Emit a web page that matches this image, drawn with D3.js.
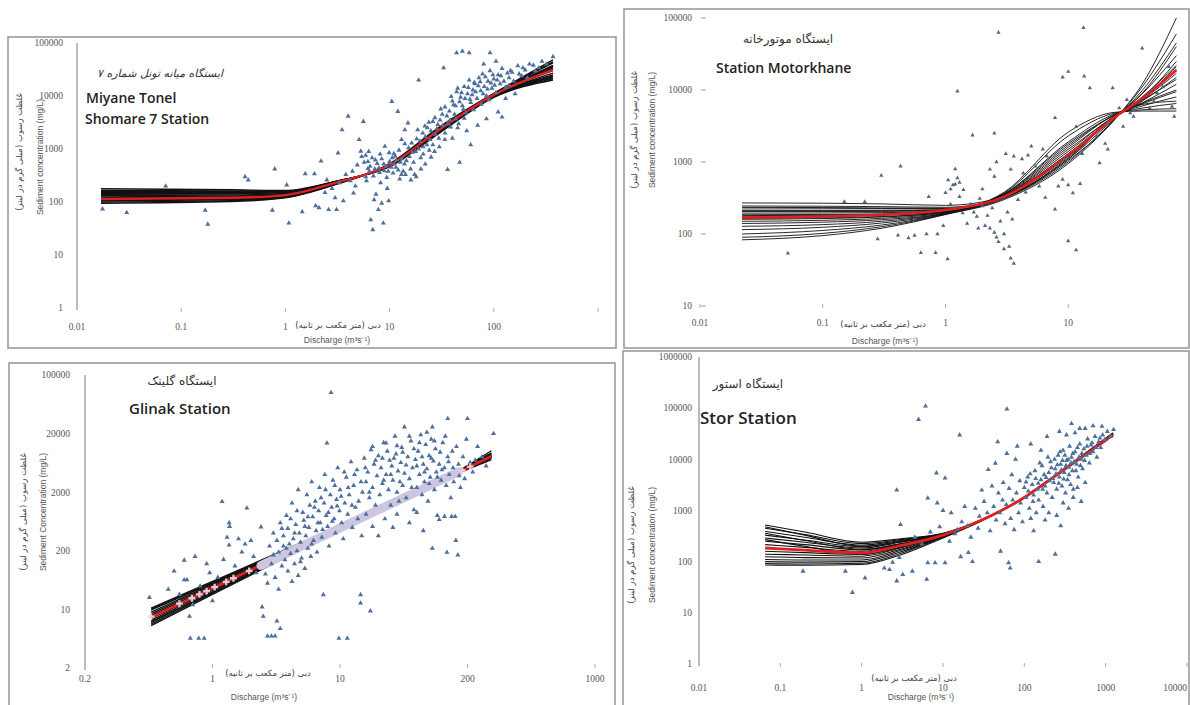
<!DOCTYPE html>
<html>
<head>
<meta charset="utf-8">
<script src="https://cdn.jsdelivr.net/npm/d3@7"></script>
<style>
  body { margin: 0; background: #fff; }
  svg { display: block; background: #fff; }
  .tick-label { font-family: "Liberation Serif", serif; font-size: 9.5px; fill: #555; }
  .axis-title { font-family: "Liberation Sans", Arial, sans-serif; font-size: 8.5px; fill: #555; }
  .fa-title { font-family: "DejaVu Sans", sans-serif; font-size: 8.5px; fill: #444; }
  .station-en { font-family: "Open Sans", "Liberation Sans", sans-serif; font-weight: 600; fill: #222; }
  .station-fa { font-family: "DejaVu Sans", sans-serif; fill: #333; }
</style>
</head>
<body>
<svg id="chart" width="1190" height="705"></svg>
<script>
// ---------- shared text ----------
const faYTitle = "غلظت رسوب (میلی گرم در لیتر)";
const faXTitle = "دبی (متر مکعب بر ثانیه)";
const enXTitle = "Discharge (m³s⁻¹)";

// ---------- Miyane Tonel (top left) ----------
const miyaneXTicks = [0.01, 0.1, 1, 10, 100, 1000];
const miyaneXLabels = ["0.01", "0.1", "1", "10", "100", ""];
const miyaneYTicks = [1, 10, 100, 1000, 10000, 100000];
const miyaneYLabels = ["1", "10", "100", "1000", "10000", "100000"];
const miyaneKnots = [0.017, 0.3, 1, 3, 10, 30, 100, 370];
const miyaneMean = [114, 120, 135, 230, 500, 2300, 10500, 31000];
const miyaneBoot = [
  [100, 106, 122, 215, 520, 2500, 11000, 48000],
  [105, 110, 126, 220, 510, 2400, 10800, 42000],
  [110, 116, 130, 225, 505, 2350, 10600, 38000],
  [118, 122, 136, 230, 495, 2300, 10500, 34000],
  [125, 128, 140, 232, 490, 2250, 10400, 30000],
  [132, 135, 145, 235, 485, 2200, 10200, 27000],
  [140, 142, 150, 238, 480, 2150, 10000, 25000],
  [150, 150, 155, 240, 475, 2100, 9800, 23000],
  [165, 162, 160, 242, 470, 2050, 9600, 21000],
  [178, 170, 165, 245, 465, 2000, 9400, 20000],
  [95, 102, 120, 212, 525, 2600, 11200, 44000],
  [108, 113, 128, 222, 508, 2380, 10700, 36000],
  [120, 125, 138, 228, 498, 2280, 10450, 33000],
  [145, 146, 152, 239, 478, 2120, 9900, 24000],
  [160, 156, 158, 241, 472, 2070, 9700, 22000],
  [112, 118, 132, 226, 502, 2330, 10550, 37000]
];
const miyanePoints = [
  [0.0176,74],[0.03,63],[0.071,200],[0.18,38],[0.17,70],[0.41,300],[0.44,260],[0.79,420],[0.75,70],
  [1.03,210],[1.08,40],[1.55,340],[1.45,65],[1.9,340],[2.2,590],[2.5,260],[2.1,78],[1.95,85],[2.6,72],
  [3.2,840],[3.1,72],[3.5,2300],[4.0,4150],[4.5,147],[4.9,500],[5.6,3300],[5.1,1500],[5.3,910],[5.9,300],
  [6.2,430],[6.6,46],[6.9,30],[7.1,110],[7.4,140],[7.8,72],[8.4,95],[8.7,40],[9.0,1120],[9.5,180],[9.8,105],
  [10.5,7900],[12,5100],[15,3100],[14,2300],[13,1500],[11,820],[10,580],
  [2.8,180],[3.3,230],[3.8,330],[4.2,250],[2.4,150],[3.6,105],[4.4,380],[4.7,200],[3.0,120],
  [5.4,720],[5.9,760],[6.2,580],[6.5,470],[6.8,680],[7.2,420],[7.6,530],[8.0,360],[8.4,650],[8.8,520],
  [9.2,470],[9.7,380],[10.1,560],[10.6,680],[11.1,520],[11.6,610],[12.1,400],[12.7,560],[13.2,650],
  [13.9,520],[14.5,600],[15.2,1050],[15.9,420],[16.6,870],[17.4,330],[18.2,1550],[19,1000],[19.9,680],
  [20.8,2000],[21.8,2700],[22.8,1200],[23.8,3200],[24.9,2200],[26,1200],[27.2,3900],[28.4,2400],
  [29.7,1600],[31,5700],[32.4,2800],[33.9,1500],[35.4,4200],[33,34000],[36,410],[38.6,2600],[19,20000],
  [6,250],[7,310],[8.2,230],[9.4,290],[10.8,350],[12.5,270],[14.2,330],[16,260],[18,300],[20,420],
  [22,520],[25,700],[27,900],[30,1100],[6.4,380],[7.9,440],[11.5,450],[13.5,380],[17,560],[21,800],[24,950],
  [40,8000],[42,4500],[44,12000],[46,3000],[48,9500],[50,6500],[52,15000],[54,4800],[56,11000],
  [58,20000],[60,7500],[63,13000],[66,17000],[69,9000],[72,22000],[75,12500],[78,26000],[81,15000],
  [85,10000],[88,19000],[92,30000],[96,14000],[100,21000],[105,11500],[110,25000],[115,17000],
  [120,33000],[130,14500],[140,22000],[150,28000],[160,11000],[170,37000],[185,24000],[200,31000],
  [220,40000],[250,30000],[290,45000],[370,55000],[44,65000],[50,70000],[58,65000],[92,65000],
  [40,1600],[47,560],[60,1200],[55,2200],[70,2800],[85,3700],[110,5000],[120,4000],[38,3500],
  [43,6500],[64,5500],[76,7000],[90,8500],[130,9000],[45,2500],[52,3800],[34,2000],[65,18000],
  [80,40000],[105,45000],[140,16000],
  [5.7,560],[6.3,900],[7.3,620],[8.1,800],[8.9,390],[9.9,850],[10.4,450],[11.3,730],[12.3,950],[13,330],
  [14,1250],[15.5,720],[16.3,1300],[17.8,900],[18.6,2300],[19.5,1400],[21,1100],[22,1700],[23,2500],
  [24.5,1500],[26,3300],[27.5,1900],[29,2900],[30.5,3500],[32,4500],[34,6200],[36,3000],[37.5,5200],
  [39,9800],[41,6800],[43,3700],[45,14000],[47,7800],[49,11500],[51,5600],[53,9000],[57,14500],
  [59,8700],[62,10500],[67,12000],[71,15500],[74,18500],[79,11000],[83,23000],[87,13500],[94,17500],
  [98,25000],[102,16000],[108,20000],[117,24000],[125,19000],[135,27000],[145,30000],[155,19000],
  [175,26000],[190,34000],[210,22000],[240,38000],[270,34000],[320,40000]
];

// ---------- Motorkhane (top right) ----------
const motorXTicks = [0.01, 0.1, 1, 10];
const motorXLabels = ["0.01", "0.1", "1", "10"];
const motorYTicks = [10, 100, 1000, 10000, 100000];
const motorYLabels = ["10", "100", "1000", "10000", "100000"];
const motorKnots = [0.022, 0.1, 0.3, 1, 3, 10, 24, 40, 76];
const motorMean = [170, 175, 185, 215, 330, 1250, 4200, 7600, 19000];
const motorBoot = [
  [270, 268, 262, 250, 330, 1100, 4400, 7800, 25000],
  [245, 243, 240, 235, 320, 1150, 4300, 7600, 21000],
  [230, 228, 226, 225, 330, 1200, 4250, 7500, 19000],
  [215, 214, 214, 218, 335, 1250, 4200, 7300, 17000],
  [205, 205, 206, 212, 340, 1300, 4250, 7000, 15000],
  [195, 196, 198, 208, 345, 1400, 4350, 6600, 12000],
  [185, 187, 190, 205, 350, 1600, 4500, 6000, 8000],
  [175, 178, 183, 203, 360, 1900, 4650, 5600, 6500],
  [165, 168, 175, 200, 370, 2300, 4800, 5300, 5500],
  [150, 155, 165, 198, 380, 2600, 4900, 5100, 5100],
  [140, 146, 158, 196, 360, 1800, 4500, 6400, 9500],
  [128, 135, 150, 194, 340, 1500, 4300, 7200, 14000],
  [115, 124, 142, 192, 330, 1250, 4150, 8000, 22000],
  [100, 112, 133, 190, 320, 1100, 4050, 8800, 30000],
  [90, 102, 126, 188, 310, 1000, 3950, 9800, 45000],
  [83, 95, 120, 186, 300, 950, 3900, 11000, 60000],
  [210, 210, 210, 215, 320, 1050, 3950, 12000, 100000],
  [180, 182, 186, 204, 340, 1300, 4200, 9000, 40000],
  [160, 164, 172, 201, 355, 1700, 4550, 6600, 10000],
  [235, 233, 230, 228, 330, 1200, 4300, 6300, 7000]
];
const motorPoints = [
  [0.052,54],[0.30,650],[0.43,870],[0.22,280],[0.15,280],[0.28,85],[0.41,96],[0.50,88],[0.56,95],
  [0.70,100],[0.63,55],[0.83,55],[0.86,100],[0.73,330],[0.96,130],[1.0,375],[1.04,45],[1.2,800],
  [1.25,600],[1.3,520],[1.1,420],[1.15,480],[1.2,490],[1.4,410],[1.25,9600],[1.66,2350],[2.5,2500],
  [2.7,63000],[1.38,195],[1.5,140],[1.8,175],[1.85,120],[2.0,245],[2.1,130],[2.3,790],[2.5,630],
  [2.6,1000],[2.3,120],[2.5,105],[2.6,90],[2.7,78],[3.0,62],[3.4,46],[3.0,100],[3.3,67],[3.6,39],
  [3.1,1300],[3.4,790],[3.6,1200],[3.9,300],[4.2,1100],[4.3,700],[4.7,1240],[5.0,1650],[5.4,870],
  [5.8,460],[6.2,1500],[6.7,1200],[7.2,700],[7.8,220],[8.3,460],[9.0,570],[9.3,1100],[10,480],
  [10.9,370],[11.6,60],[12.5,500],[13,1300],[13.3,73000],[9,15000],[10,18000],[13.5,15500],[15,10700],
  [7.8,4100],[11.6,3100],[17,2300],[18,970],[20,1800],[21,1500],[23,10700],[26,5600],[30,7300],
  [32,4800],[34,5300],[40,38000],[46,5600],[50,6900],[53,9100],[59,11000],[66,21000],[70,5900],
  [73,4300],[34,4300],[28,3100],[21,3500],[10,80],[1.6,260],[1.7,200],[1.9,310],[2.2,180],[2.8,150],
  [3.2,200],[3.5,160],[1.1,260],[1.3,330],[4.5,380],[6.5,320],[8.0,900],[1.05,560],[2.0,420],[2.4,230]
];

// ---------- Glinak (bottom left) ----------
const glinakXTicks = [0.1, 1, 10, 100, 1000];
const glinakXLabels = ["0.2", "1", "10", "200", "1000"];
const glinakYTicks = [1, 10, 100, 1000, 10000, 100000];
const glinakYLabels = ["2", "10", "200", "2000", "20000", "100000"];
const glinakKnots = [0.33, 1, 10, 100, 154];
const glinakMean = [7.4, 23, 245, 2600, 4100];
const glinakBoot = [
  [10.5, 30, 270, 2550, 3900],
  [9.8, 28, 262, 2580, 4000],
  [9.0, 27, 258, 2600, 4050],
  [8.4, 26, 252, 2620, 4100],
  [7.9, 24.5, 248, 2640, 4200],
  [7.0, 22, 242, 2680, 4300],
  [6.5, 21, 238, 2720, 4400],
  [6.0, 20, 234, 2760, 4550],
  [5.6, 19, 230, 2800, 4700],
  [5.3, 18, 226, 2850, 5100],
  [10.0, 29, 260, 2450, 3600],
  [6.2, 19.5, 225, 2500, 3800]
];
const glinakHighlightQ = [2.4, 10, 40, 85];
const glinakHighlightC = [56, 245, 1020, 2230];
const glinakPlusQ = [0.33, 0.55, 0.69, 0.79, 0.9, 1.04, 1.28, 1.46, 1.94, 91, 105];
const glinakPlusC = [7.5, 12.5, 15.5, 18, 20.5, 24, 29.5, 34, 45.5, 2350, 2720];
const glinakPoints = [
  [0.32,16],[0.6,69],[0.6,32],[0.63,32],[0.73,80],[0.66,7.6],[0.67,3.2],[0.78,3.2],[0.86,3.2],[0.95,42],
  [1.19,690],[1.22,71],[1.35,300],[1.36,260],[1.3,170],[1.35,125],[1.6,160],[1.8,130],[1.86,535],
  [2.1,80],[2.2,42],[2.4,255],[2.45,11],[2.5,7.6],[2.7,3.5],[2.9,3.5],[3.1,3.5],[3.4,4.7],[3.2,6.3],
  [0.45,22],[0.5,45],[0.55,18],[0.8,25],[1.0,14],[1.1,35],[0.9,60],[1.5,55],[1.7,95],[2.0,150],[0.7,12],
  [2.6,40],[2.7,28],[2.8,120],[2.9,60],[3.0,200],[3.0,85],[3.1,35],[3.2,150],[3.3,95],[3.3,22],
  [3.4,300],[3.5,55],[3.6,180],[3.6,120],[3.7,70],[3.8,400],[3.9,45],[3.9,240],[4.0,130],[4.1,90],
  [4.2,650],[4.2,30],[4.3,160],[4.4,60],[4.5,280],[4.6,100],[4.7,1100],[4.7,38],[4.8,200],[4.9,140],
  [5.0,75],[5.1,450],[5.2,330],[5.3,50],[5.4,180],[5.5,900],[5.6,110],[5.7,250],[5.8,600],[5.9,80],
  [6.0,1500],[6.1,380],[6.2,150],[6.4,700],[6.5,220],[6.6,95],[6.8,480],[6.9,1200],[7.0,300],[7.2,170],
  [7.4,17.8],[7.5,650],[7.6,2000],[7.8,400],[7.9,6900],[8.0,260],[8.2,120],[8.4,900],[8.5,50000],
  [8.6,550],[8.8,1600],[9.0,350],[9.2,200],[9.4,750],[9.6,2600],[9.8,3.2],[9.9,480],[10,1100],
  [10.3,300],[10.6,160],[10.9,650],[11.2,1800],[11.4,3.2],[11.5,420],[11.8,900],[12.2,3300],[12.5,250],
  [12.8,1300],[13.2,550],[13.6,2400],[14.0,700],[14.5,17.8],[14.5,12.8],[14.8,180],[15,1000],
  [15.5,3800],[16,420],[17.3,9.4],
  [16,1500],[16.5,2200],[17,800],[17.5,5300],[18,1200],[18.5,3000],[19,600],[19.5,1900],[20,4200],
  [20.5,900],[21,2600],[21.5,1400],[22,7000],[22.5,350],[23,6900],[23,2000],[24,1100],[24.5,3500],
  [25,600],[25.5,2800],[26,1600],[27,9000],[27.5,4500],[28,1000],[28.5,2300],[29,700],[30,3200],
  [30.5,5800],[31,1300],[32,13000],[32,2100],[33,800],[34,4000],[35,1700],[36,7500],[37,2600],[38,500],
  [39,3600],[40,1200],[41,5000],[42,2000],[43,9500],[44,900],[45,3000],[46,1500],[47,6500],[48,2500],
  [49,700],[50,4200],[51,1800],[52,8000],[53,13000],[53,110],[54,3400],[55,1100],[56,5500],[57,2200],
  [58,400],[60,340],[60,3000],[62,1600],[64,7000],[66,385],[66,2600],[68,1300],[69,94],[70,18000],
  [70,4000],[72,2000],[74,800],[75,385],[76,5000],[78,1500],[80,385],[81,150],[84,85],[85,3000],
  [88,1200],[90,2400],[95,1700],[100,18000],[105,3200],[110,2200],[120,6000],[130,4000],[160,10000],
  [140,2800],[26,250],[35,300],[45,220],[20,180],[28,420],[40,450],[18,260],
  [3.5,240],[3.8,110],[4.1,350],[4.4,200],[4.6,480],[4.9,65],[5.3,260],[5.6,380],[6.0,130],[6.3,550],
  [6.7,300],[7.1,800],[7.3,230],[7.7,1100],[8.1,450],[8.7,320],[9.1,1300],[9.5,580],[10.2,850],
  [10.8,2200],[11.6,1200],[12.4,600],[13,2000],[13.8,350],[14.6,1500],[15.8,2600],[17,1000],[18,6000],
  [19,3500],[21.5,3800],[22,1600],[23.5,5000],[25,2000],[26.5,3800],[28,6200],[29.5,1500],[31,4800],
  [33,2900],[35,9000],[36.5,1200],[38,5500],[40,2800],[42,7000],[44,4000],[46,2200],[48,10500],
  [50,1400],[52,3800],[55,7500],[58,1800],[61,4800],[63,2400],[67,9000],[71,3300],[77,2600],[82,6000],
  [86,1900],[92,4000],[98,8000],[115,3500]
];

// ---------- Stor (bottom right) ----------
const storXTicks = [0.01, 0.1, 1, 10, 100, 1000, 10000];
const storXLabels = ["0.01", "0.1", "1", "10", "100", "1000", "10000"];
const storYTicks = [1, 10, 100, 1000, 10000, 100000, 1000000];
const storYLabels = ["1", "10", "100", "1000", "10000", "100000", "1000000"];
const storKnots = [0.065, 0.2, 1, 3, 10, 30, 100, 300, 1230];
const storMean = [185, 168, 148, 205, 330, 650, 1800, 6100, 30000];
const storBoot = [
  [520, 380, 240, 280, 360, 660, 1780, 6000, 29000],
  [450, 340, 225, 270, 355, 660, 1790, 6050, 29500],
  [390, 300, 210, 260, 350, 655, 1790, 6080, 30000],
  [330, 265, 195, 250, 345, 655, 1795, 6100, 30500],
  [290, 240, 185, 240, 340, 652, 1800, 6100, 31000],
  [250, 215, 170, 225, 335, 650, 1800, 6100, 31000],
  [215, 190, 160, 215, 330, 650, 1800, 6100, 30000],
  [160, 150, 138, 195, 325, 648, 1805, 6150, 30500],
  [140, 135, 128, 185, 320, 645, 1810, 6200, 31000],
  [125, 120, 118, 175, 315, 645, 1810, 6200, 31500],
  [110, 108, 108, 165, 310, 640, 1815, 6250, 32000],
  [100, 98, 100, 155, 305, 640, 1820, 6300, 32000],
  [92, 90, 93, 145, 300, 635, 1820, 6300, 32500],
  [86, 85, 88, 135, 290, 630, 1825, 6350, 33000],
  [480, 330, 200, 245, 345, 655, 1790, 6050, 29000],
  [360, 260, 175, 220, 335, 650, 1800, 6100, 30000],
  [270, 200, 140, 190, 325, 648, 1805, 6150, 30500]
];
const storPoints = [
  [0.19,65],[0.22,94],[0.63,65],[0.77,25],[1.1,48],[1.9,75],[2.2,70],[2.7,42],[3.2,56],[4.2,65],
  [6.3,45],[2.4,97],[2.9,120],[3.0,530],[2.7,2500],[5.0,60000],[6.1,110000],[16,30000],[61,96000],
  [47,22000],[6.5,1750],[8.5,1400],[10.6,4300],[8.3,5400],[6.5,95],[8,95],[10.6,95],[16.5,125],
  [23,100],[10,1000],[9.1,480],[12.6,900],[15,420],[18.5,1200],[20.5,150],[28,770],[32,1500],
  [36,6300],[44,8400],[54,1600],[61,13000],[64,95],[51,160],[67,75],[78,10000],[82,18000],[240,140],
  [4.5,300],[5.5,220],[7,380],[12,250],[14,350],[17,600],[20,500],[22,300],[25,1100],[27,450],
  [30,2500],[35,900],[38,400],[40,3000],[42,1200],[45,650],[48,2200],[50,900],[55,3500],[58,550],
  [60,1300],[65,2700],[68,700],[70,5000],[72,1600],[75,420],[80,2200],[85,900],[88,3800],[90,1400],
  [95,600],[100,2800],[105,1800],[110,4500],[115,1100],[120,700],[125,3200],[130,2000],[135,6000],
  [140,900],[145,2600],[150,1600],[160,4000],[165,7500],[170,1200],[180,3000],[190,2200],[200,5500],
  [210,9000],[220,1800],[230,3500],[240,6500],[250,2600],[260,12000],[270,4500],[280,8000],[290,3000],
  [300,15000],[310,5500],[320,2200],[330,9500],[340,4000],[350,7000],[360,18000],[370,3200],
  [380,11000],[390,6000],[400,2600],[420,14000],[440,8000],[460,4500],[480,20000],[500,10000],
  [520,6500],[540,16000],[560,3500],[580,12000],[600,25000],[630,8500],[660,19000],[700,14000],
  [740,28000],[780,11000],[820,22000],[870,17000],[920,30000],[970,24000],[1050,35000],[1150,28000],
  [1250,38000],[330,30000],[420,33000],[560,40000],[700,45000],[900,44000],[250,800],[280,500],
  [300,1400],[350,1100],[400,1800],[450,2800],[500,1500],[130,400],[180,650],[150,100],[200,900],
  [120,20000],[160,15000],[190,28000],[270,35000],[380,50000],[480,40000],
  [105,3600],[112,2400],[118,5200],[128,1500],[138,4200],[148,3400],[155,8500],[168,2600],[175,5000],
  [185,4400],[195,11000],[205,3800],[215,6800],[225,4200],[235,10000],[245,5200],[255,7800],[265,3400],
  [275,14000],[285,6200],[295,9500],[305,4100],[315,12000],[325,7500],[345,10000],[355,5000],
  [375,8500],[395,13000],[410,9000],[430,6000],[450,17000],[470,11000],[490,7500],[510,13000],
  [550,9500],[590,18000],[640,13000],[680,21000],[760,17000],[850,26000]
];

// ---------- layout (positions only) ----------
const panels = [
  {
    frame: [8, 37, 608, 311], xRange: [77, 598], yRange: [308, 43],
    xDomain: [0.01, 1000], yDomain: [1, 100000],
    xTicks: miyaneXTicks, xLabels: miyaneXLabels, yTicks: miyaneYTicks, yLabels: miyaneYLabels,
    knots: miyaneKnots, mean: miyaneMean, boot: miyaneBoot, points: miyanePoints,
    axisLine: true, yDash: false, yLabelX: 63, xTickY: 308, xLabelY: 327,
    bootWidth: 1.4, meanWidth: 2.4, pointSize: 11, pointColor: "#4d6f9c",
    faX: [338, 325], enX: [337, 340], faY: [19, 152], enY: [40, 157], yTitleEn: "Sediment concentration (mg/L)",
    fa: { text: "ایستگاه میانه تونل شماره ۷", x: 160, y: 73, size: 11, italic: true },
    en: [{ text: "Miyane Tonel", x: 86, y: 103, size: 14 }, { text: "Shomare 7 Station", x: 85, y: 124, size: 14 }]
  },
  {
    frame: [624, 9, 565, 339], xRange: [700, 1191], yRange: [306, 18],
    xDomain: [0.01, 100], yDomain: [10, 100000],
    xTicks: motorXTicks, xLabels: motorXLabels, yTicks: motorYTicks, yLabels: motorYLabels,
    knots: motorKnots, mean: motorMean, boot: motorBoot, points: motorPoints,
    axisLine: false, yDash: true, yLabelX: 692, xTickY: 304, xLabelY: 323,
    bootWidth: 0.9, meanWidth: 2.6, pointSize: 8, pointColor: "#55677e",
    faX: [883, 324], enX: [885, 341], faY: [634, 130], enY: [652, 130], yTitleEn: "Sediment concentration (mg/L)",
    fa: { text: "ایستگاه موتورخانه", x: 788, y: 39, size: 12, italic: false },
    en: [{ text: "Station Motorkhane", x: 716, y: 73, size: 14 }]
  },
  {
    frame: [9, 363, 606, 345], xRange: [85, 595], yRange: [668, 375],
    xDomain: [0.1, 1000], yDomain: [1, 100000],
    xTicks: glinakXTicks, xLabels: glinakXLabels, yTicks: glinakYTicks, yLabels: glinakYLabels,
    knots: glinakKnots, mean: glinakMean, boot: glinakBoot, points: glinakPoints,
    axisLine: true, yDash: false, yLabelX: 70, xTickY: 664, xLabelY: 679,
    bootWidth: 1.3, meanWidth: 2.6, pointSize: 11, pointColor: "#4d6f9c",
    faX: [268, 673], enX: [264, 697], faY: [23, 512], enY: [43, 512], yTitleEn: "Sediment Concentration (mg/L)",
    fa: { text: "ایستگاه گلینک", x: 182, y: 381, size: 12, italic: false },
    en: [{ text: "Glinak  Station", x: 129, y: 414, size: 15 }],
    glinak: true
  },
  {
    frame: [623, 351, 566, 356], xRange: [699, 1187], yRange: [664, 357],
    xDomain: [0.01, 10000], yDomain: [1, 1000000],
    xTicks: storXTicks, xLabels: storXLabels, yTicks: storYTicks, yLabels: storYLabels,
    knots: storKnots, mean: storMean, boot: storBoot, points: storPoints,
    axisLine: true, yDash: false, yLabelX: 692, xTickY: 663, xLabelY: 688,
    bootWidth: 1.1, meanWidth: 2.8, pointSize: 11, pointColor: "#4d6f9c",
    faX: [914, 678], enX: [921, 697], faY: [631, 545], enY: [652, 545], yTitleEn: "Sediment concentration (mg/L)",
    fa: { text: "ایستگاه استور", x: 748, y: 384, size: 12, italic: false },
    en: [{ text: "Stor Station", x: 700, y: 424, size: 17 }],
    lastLabelShift: -12
  }
];

const svg = d3.select("#chart");

function drawPanel(p) {
  const g = svg.append("g");
  const [fx, fy, fw, fh] = p.frame;
  g.append("rect").attr("x", fx).attr("y", fy).attr("width", fw).attr("height", fh)
    .attr("fill", "#fff").attr("stroke", "#9c9c9c").attr("stroke-width", 1.6);

  const x = d3.scaleLog().domain(p.xDomain).range(p.xRange);
  const y = d3.scaleLog().domain(p.yDomain).range(p.yRange);

  // axis
  if (p.axisLine) {
    g.append("line").attr("x1", p.xRange[0]).attr("x2", p.xRange[0])
      .attr("y1", p.yRange[1]).attr("y2", p.yRange[0] + 2)
      .attr("stroke", "#777").attr("stroke-width", 1);
  }
  p.yTicks.forEach((t, i) => {
    g.append("text").attr("class", "tick-label")
      .attr("x", p.yLabelX).attr("y", y(t)).attr("dy", "0.35em")
      .attr("text-anchor", "end").text(p.yLabels[i]);
    if (p.yDash) {
      g.append("line").attr("x1", p.yLabelX + 9).attr("x2", p.yLabelX + 14)
        .attr("y1", y(t)).attr("y2", y(t)).attr("stroke", "#888").attr("stroke-width", 0.8);
    }
  });
  p.xTicks.forEach((t, i) => {
    if (i > 0 || !p.axisLine) {
      g.append("line").attr("x1", x(t)).attr("x2", x(t))
        .attr("y1", p.xTickY).attr("y2", p.xTickY + 4)
        .attr("stroke", "#999").attr("stroke-width", 0.8);
    }
    const shift = (i === p.xTicks.length - 1 && p.lastLabelShift) ? p.lastLabelShift : 0;
    g.append("text").attr("class", "tick-label")
      .attr("x", x(t) + shift).attr("y", p.xLabelY).attr("dy", "0.35em")
      .attr("text-anchor", "middle").text(p.xLabels[i]);
  });

  // titles
  g.append("text").attr("class", "fa-title").attr("x", p.faX[0]).attr("y", p.faX[1])
    .attr("dy", "0.35em").attr("text-anchor", "middle").attr("direction", "rtl").text(faXTitle);
  g.append("text").attr("class", "axis-title").attr("x", p.enX[0]).attr("y", p.enX[1])
    .attr("dy", "0.35em").attr("text-anchor", "middle").text(enXTitle);
  g.append("text").attr("class", "fa-title")
    .attr("transform", `translate(${p.faY[0]},${p.faY[1]}) rotate(-90)`)
    .attr("dy", "0.35em").attr("text-anchor", "middle").text(faYTitle);
  g.append("text").attr("class", "axis-title")
    .attr("transform", `translate(${p.enY[0]},${p.enY[1]}) rotate(-90)`)
    .attr("dy", "0.35em").attr("text-anchor", "middle").text(p.yTitleEn);

  // bootstrap curves + mean
  const line = d3.line().x(d => x(d[0])).y(d => y(d[1])).curve(d3.curveMonotoneX);
  p.boot.forEach(vals => {
    g.append("path").attr("d", line(p.knots.map((q, i) => [q, vals[i]])))
      .attr("fill", "none").attr("stroke", "#111").attr("stroke-width", p.bootWidth);
  });
  g.append("path").attr("d", line(p.knots.map((q, i) => [q, p.mean[i]])))
    .attr("fill", "none").attr("stroke", "#e01f1f").attr("stroke-width", p.meanWidth);

  if (p.glinak) {
    g.append("path").attr("d", line(glinakHighlightQ.map((q, i) => [q, glinakHighlightC[i]])))
      .attr("fill", "none").attr("stroke", "#cdc6e0").attr("stroke-width", 9)
      .attr("stroke-linecap", "round");
  }

  // observations
  const tri = d3.symbol().type(d3.symbolTriangle).size(p.pointSize);
  g.append("g").selectAll("path").data(p.points).join("path")
    .attr("d", tri)
    .attr("transform", d => `translate(${x(d[0])},${y(d[1])})`)
    .attr("fill", p.pointColor);

  if (p.glinak) {
    const cross = d3.symbol().type(d3.symbolCross).size(26);
    g.append("g").selectAll("path").data(glinakPlusQ.map((q, i) => [q, glinakPlusC[i]])).join("path")
      .attr("d", cross)
      .attr("transform", d => `translate(${x(d[0])},${y(d[1])})`)
      .attr("fill", "#f3d9e6").attr("opacity", 0.9);
  }

  // station names
  g.append("text").attr("class", "station-fa").attr("x", p.fa.x).attr("y", p.fa.y)
    .attr("dy", "0.35em").attr("text-anchor", "middle").attr("font-size", p.fa.size)
    .attr("font-style", p.fa.italic ? "italic" : "normal").text(p.fa.text);
  p.en.forEach(t => {
    g.append("text").attr("class", "station-en").attr("x", t.x).attr("y", t.y)
      .attr("font-size", t.size).text(t.text);
  });
}

panels.forEach(drawPanel);
</script>
</body>
</html>
